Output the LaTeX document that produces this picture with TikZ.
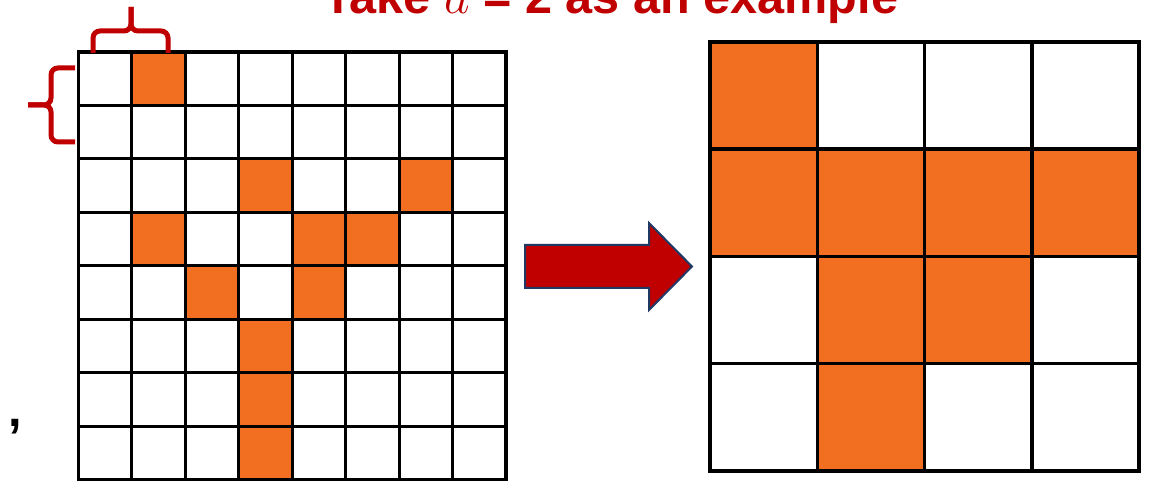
\documentclass[tikz,border=0pt]{standalone}
\usepackage{fontspec}
\setmainfont{Liberation Sans}
\usetikzlibrary{positioning}
\definecolor{pkOrange}{HTML}{F26F21}
\definecolor{pkRed}{HTML}{C00000}
\definecolor{pkNavy}{HTML}{1F3864}
\tikzset{
 pool/.style={line join=miter},
 hot/.style={fill=pkOrange},
 fineline/.style={draw=black,line width=1.5pt,step=1,line cap=rect},
 coarseline/.style={draw=black,line width=1.7pt,step=1,line cap=rect},
 bracket/.style={draw=pkRed,line width=2.5pt,rounded corners=3.5pt},
 blockarrow/.style={fill=pkRed,draw=pkNavy,line width=1pt,line join=miter},
 headline/.style={font=\fontsize{24.3}{29}\selectfont\bfseries,text=pkRed,anchor=base,inner sep=0pt},
 stray/.style={font=\fontsize{24.3}{29}\selectfont\bfseries,anchor=base west,inner sep=0pt}
}

\begin{document}
\begin{tikzpicture}[pool,x=.5pt,y=.5pt]
 \useasboundingbox (0,0) rectangle (1153,491);
 \clip (0,0) rectangle (1153,491);
 \fill[white] (0,0) rectangle (1153,491);
 % title, cut at the top edge
 \node[headline] (title) at (611,477) {Take $a$ = 2 as an example};
 \node[stray] (comma) at (8.5,64) {,};
 % fine 8x8 map
 \begin{scope}[shift={(78,11)},x=26.75pt,y=26.75pt]
  \foreach \c/\r in {1/0,3/2,6/2,1/3,4/3,5/3,2/4,4/4,3/5,3/6,3/7}
   \fill[hot] (\c,7-\r) rectangle ++(1,1);
  \draw[fineline] (0,0) grid (8,8);
  \draw[fineline] (0,0) rectangle (8,8);
 \end{scope}
 % coarse 4x4 map
 \begin{scope}[shift={(710,20)},x=53.65pt,y=53.65pt]
  \foreach \c/\r in {0/0,0/1,1/1,2/1,3/1,1/2,2/2,1/3}
   \fill[hot] (\c,3-\r) rectangle ++(1,1);
  \draw[coarseline] (0,0) grid (4,4);
  \draw[coarseline] (0,0) rectangle (4,4);
 \end{scope}
 % braces marking a = 2 cells
 \draw[bracket] (93,438) -- (93,460) -- (131,460) -- (131,484);
 \draw[bracket] (168,438) -- (168,460) -- (131,460) -- (131,484);
 \draw[bracket] (75,423) -- (51,423) -- (51,386) -- (28,386);
 \draw[bracket] (75,349) -- (51,349) -- (51,386) -- (28,386);
 % pooling arrow
 \draw[blockarrow] (525,246) -- (649,246) -- (649,268) -- (692,224.5)
  -- (649,181) -- (649,203) -- (525,203) -- cycle;
\end{tikzpicture}
\end{document}
